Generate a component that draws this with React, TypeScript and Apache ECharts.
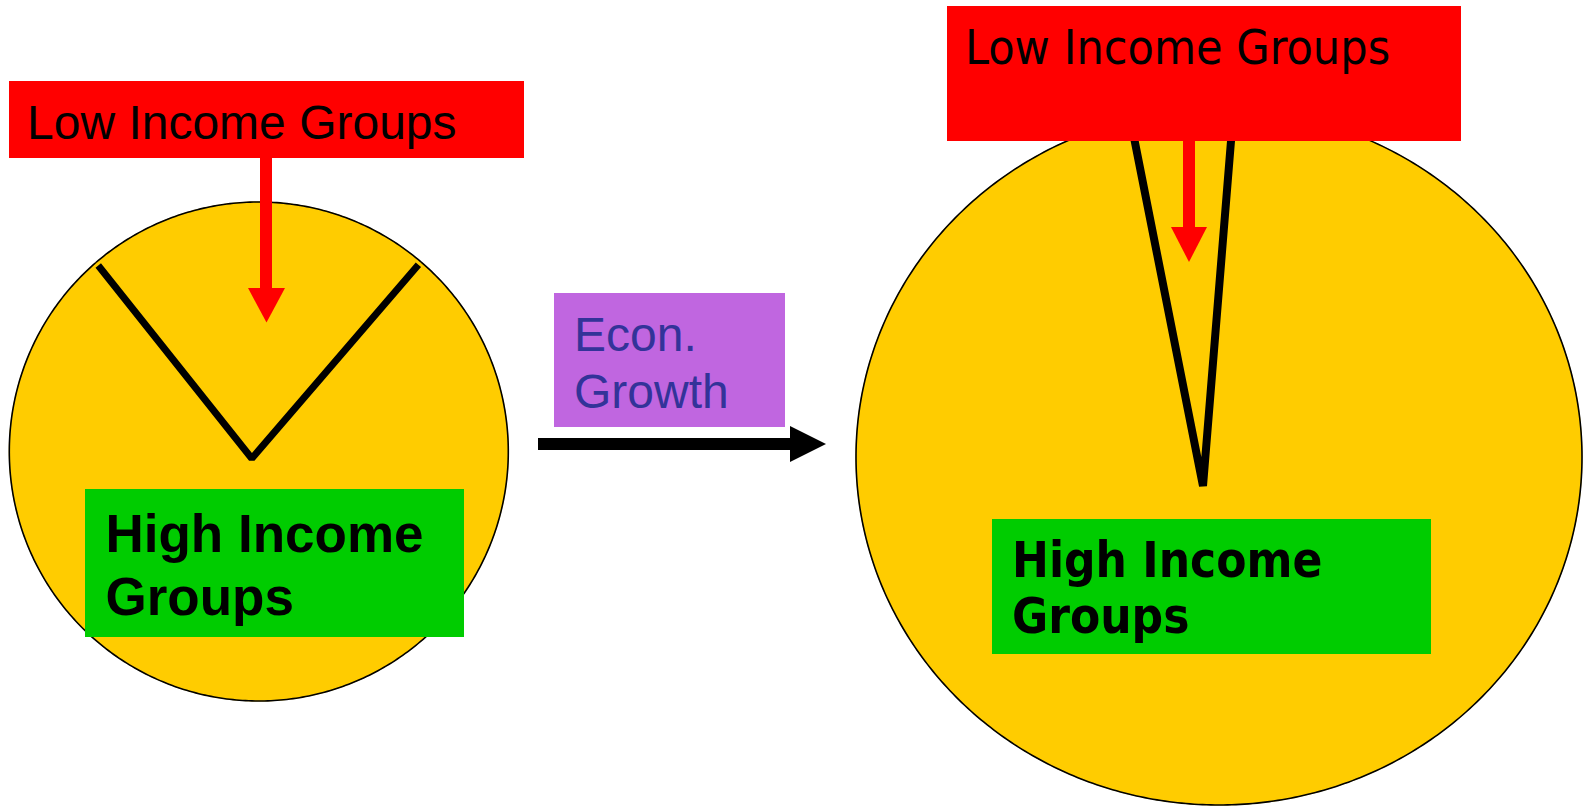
import React, { useEffect, useRef } from "react";
import * as echarts from "echarts";

// ---- data ----
const categories = ["Low Income Groups", "High Income Groups"];
const beforeShares = [22, 78]; // income shares before growth (%)
const afterShares = [4.4, 95.6]; // income shares after growth (%)
const growthLabel = ["Econ.", "Growth"];

// ---- layout / style ----
const W = 1591;
const H = 807;
const YELLOW = "#FFCC00";
const RED = "#FF0000";
const GREEN = "#00CC00";
const PURPLE = "#C066E0";
const NAVY = "#333399";
const ARIAL = '"Liberation Sans", Arial, sans-serif';
const TAHOMA = '"DejaVu Sans Condensed", "DejaVu Sans", sans-serif';

const PIES = [
  { shares: beforeShares, cx: 258.8, cy: 451.5, rx: 249.5, ry: 249.5, apex: [-7, 7], startAngle: 128.5, edgeWidth: 7, edgeReach: 0.985, join: "bevel" },
  { shares: afterShares, cx: 1219, cy: 457, rx: 363, ry: 348, apex: [-16, 29], startAngle: 101.2, edgeWidth: 8, edgeReach: 1, join: "bevel" },
];

function makeRenderItem(pie: any) {
  return (params: any, api: any) => {
    const i = params.dataIndex;
    const shares: number[] = pie.shares;
    const total = shares.reduce((s, v) => s + v, 0);
    const before = shares.slice(0, i).reduce((s, v) => s + v, 0);
    const s = pie.startAngle - (360 * before) / total;
    const e = s - (360 * shares[i]) / total;
    const c = api.coord([0, 0]);
    const ex = api.coord([1, 0])[0] - c[0];
    const ey = c[1] - api.coord([0, 1])[1];
    const a = api.coord([pie.apex[0] / pie.rx, -pie.apex[1] / pie.ry]);
    const ux = a[0] - c[0];
    const uy = a[1] - c[1];
    const hit = (deg: number, reach = 1) => {
      const r = (deg * Math.PI) / 180;
      const dx = Math.cos(r);
      const dy = -Math.sin(r);
      const A = (dx * dx) / (ex * ex) + (dy * dy) / (ey * ey);
      const B = 2 * ((ux * dx) / (ex * ex) + (uy * dy) / (ey * ey));
      const C = (ux * ux) / (ex * ex) + (uy * uy) / (ey * ey) - 1;
      const t = ((-B + Math.sqrt(B * B - 4 * A * C)) / (2 * A)) * reach;
      return [a[0] + t * dx, a[1] + t * dy];
    };
    const n = Math.max(2, Math.ceil(Math.abs(s - e) / 0.75));
    const arc: number[][] = [];
    for (let k = 0; k <= n; k++) arc.push(hit(s + ((e - s) * k) / n));
    const children: any[] = [
      {
        type: "polygon",
        z2: 0,
        shape: { points: [a, ...arc] },
        style: { fill: YELLOW, stroke: YELLOW, lineWidth: 1 },
      },
      {
        type: "polyline",
        z2: 1,
        shape: { points: arc },
        style: { fill: "none", stroke: "#000", lineWidth: 1.6 },
      },
    ];
    if (i === 0) {
      children.push({
        type: "polyline",
        z2: 2,
        shape: { points: [hit(s, pie.edgeReach), a, hit(e, pie.edgeReach)] },
        style: { fill: "none", stroke: "#000", lineWidth: pie.edgeWidth, lineCap: "butt", lineJoin: pie.join },
      });
    }
    return { type: "group", children };
  };
}

export default function App() {
  const ref = useRef<HTMLDivElement>(null);
  useEffect(() => {
    document.body.style.margin = "0";
    const chart = echarts.init(ref.current!, undefined, { renderer: "svg" });
    const grids = PIES.map((p) => ({ left: p.cx - p.rx, top: p.cy - p.ry, width: 2 * p.rx, height: 2 * p.ry, containLabel: false }));
    const axes = PIES.map((_, gi) => ({ gridIndex: gi, type: "value", min: -1, max: 1, show: false }));
    const series = PIES.map((p, gi) => ({
      type: "custom",
      name: gi === 0 ? "Before" : "After",
      coordinateSystem: "cartesian2d",
      xAxisIndex: gi,
      yAxisIndex: gi,
      silent: true,
      encode: { x: 0, y: 1 },
      data: p.shares.map((v, i) => ({ name: categories[i], value: [0, 0, v] })),
      renderItem: makeRenderItem(p),
    }));
    const G = 100;
    const graphic: any[] = [
      // left low-income box
      { type: "rect", z: G, shape: { x: 9, y: 81, width: 515, height: 77 }, style: { fill: RED } },
      { type: "text", z: G + 1, x: 27, y: 122.5, style: { text: categories[0], font: `48px ${ARIAL}`, fill: "#000", verticalAlign: "middle" } },
      { type: "rect", z: G, shape: { x: 260, y: 157, width: 12, height: 132 }, style: { fill: RED } },
      { type: "polygon", z: G, shape: { points: [[248, 288], [285, 288], [266.5, 322.5]] }, style: { fill: RED } },
      // left high-income box
      { type: "rect", z: G, shape: { x: 85, y: 489, width: 379, height: 148 }, style: { fill: GREEN } },
      { type: "text", z: G + 1, x: 105.5, y: 502, style: { text: categories[1].replace(" Groups", "\nGroups"), font: `bold 53px ${ARIAL}`, fill: "#000", verticalAlign: "top", lineHeight: 63 } },
      // growth box + arrow
      { type: "rect", z: G, shape: { x: 554, y: 293, width: 231, height: 134 }, style: { fill: PURPLE } },
      { type: "text", z: G + 1, x: 574, y: 305.5, style: { text: growthLabel.join("\n"), font: `48px ${ARIAL}`, fill: NAVY, verticalAlign: "top", lineHeight: 57 } },
      { type: "rect", z: G, shape: { x: 538, y: 438, width: 253, height: 12 }, style: { fill: "#000" } },
      { type: "polygon", z: G, shape: { points: [[790, 426], [826, 444], [790, 462]] }, style: { fill: "#000" } },
      // right low-income box
      { type: "rect", z: G, shape: { x: 947, y: 6, width: 514, height: 135 }, style: { fill: RED } },
      { type: "text", z: G + 1, x: 965, y: 46.5, style: { text: categories[0], font: `48px ${TAHOMA}`, fill: "#000", verticalAlign: "middle" } },
      { type: "rect", z: G, shape: { x: 1183, y: 140, width: 12, height: 88 }, style: { fill: RED } },
      { type: "polygon", z: G, shape: { points: [[1171, 227], [1207, 227], [1189, 262]] }, style: { fill: RED } },
      // right high-income box
      { type: "rect", z: G, shape: { x: 992, y: 519, width: 439, height: 135 }, style: { fill: GREEN } },
      { type: "text", z: G + 1, x: 1012, y: 532, style: { text: categories[1].replace(" Groups", "\nGroups"), font: `bold 49px ${TAHOMA}`, fill: "#000", verticalAlign: "top", lineHeight: 56 } },
    ];
    chart.setOption({
      animation: false,
      backgroundColor: "#fff",
      grid: grids,
      xAxis: axes,
      yAxis: axes,
      series,
      graphic,
    });
    return () => chart.dispose();
  }, []);
  return <div ref={ref} style={{ width: W, height: H }} />;
}
